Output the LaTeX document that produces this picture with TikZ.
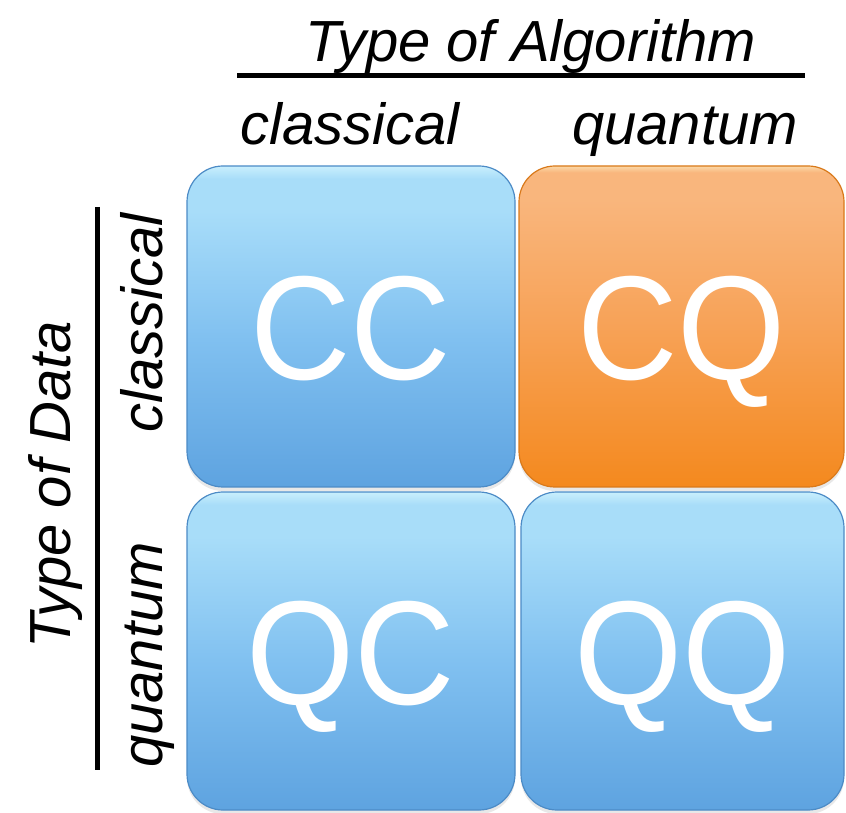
\documentclass[tikz,border=0pt]{standalone}
\usepackage{fontspec}
\setmainfont{Liberation Sans}
\newfontfamily\cellfont[FakeStretch=0.94]{Liberation Sans}
\usetikzlibrary{shadows}

\definecolor{bluetop}{HTML}{A8DDF9}
\definecolor{bluehi}{HTML}{C9EFFD}
\definecolor{bluemid}{HTML}{80C0F0}
\definecolor{bluebot}{HTML}{5EA3E0}
\definecolor{blueedge}{HTML}{4C8BC6}
\definecolor{orangetop}{HTML}{F9B67D}
\definecolor{orangehi}{HTML}{FBD9A8}
\definecolor{orangemid}{HTML}{F7A257}
\definecolor{orangebot}{HTML}{F4891E}
\definecolor{orangeedge}{HTML}{D9791A}

% vertical shadings: the box spans 25bp (bottom) to 75bp (top)
\pgfdeclareverticalshading{bluefill}{100bp}{color(0bp)=(bluebot); color(25bp)=(bluebot); color(48bp)=(bluemid); color(68bp)=(bluetop); color(73bp)=(bluetop); color(75bp)=(bluehi); color(100bp)=(bluehi)}
\pgfdeclareverticalshading{orangefill}{100bp}{color(0bp)=(orangebot); color(25bp)=(orangebot); color(50bp)=(orangemid); color(70bp)=(orangetop); color(74bp)=(orangetop); color(75bp)=(orangehi); color(100bp)=(orangehi)}

\tikzset{
  cell/.style={rectangle, rounded corners=36pt, inner sep=0pt, line width=1.2pt,
    text=white, font=\cellfont\fontsize{148}{148}\selectfont,
    text height=106pt, text depth=0pt,
    drop shadow={opacity=0.18, shadow xshift=0pt, shadow yshift=-4pt}},
  bluecell/.style={cell, draw=blueedge, shading=bluefill},
  orangecell/.style={cell, draw=orangeedge, shading=orangefill},
  axislabel/.style={font=\fontsize{58}{58}\selectfont\itshape, inner sep=0pt, anchor=base},
  axisrule/.style={line width=5pt, black}
}

\begin{document}
\begin{tikzpicture}[x=1pt,y=1pt]
\useasboundingbox (0,0) rectangle (846,812);

% the four cells
\node[bluecell,   minimum width=328pt, minimum height=321pt] (cc) at (351,485.5) {CC};
\node[orangecell, minimum width=325pt, minimum height=321pt] (cq) at (681.5,485.5) {CQ};
\node[bluecell,   minimum width=328pt, minimum height=318pt] (qc) at (351,161) {QC};
\node[bluecell,   minimum width=323pt, minimum height=318pt] (qq) at (682.5,161) {QQ};

% algorithm axis
\node[axislabel] (alg) at (531,750) {Type of Algorithm};
\coordinate (hl) at (237,736);
\coordinate (hr) at (805,736);
\draw[axisrule] (hl) -- (hr);
\node[axislabel] (algc) at (350,667) {classical};
\node[axislabel] (algq) at (685,667) {quantum};

% data axis
\node[axislabel, rotate=90] (dat) at (70,327) {Type of Data};
\coordinate (vt) at (97,605);
\coordinate (vb) at (97,42);
\draw[axisrule] (vt) -- (vb);
\node[axislabel, rotate=90] (datc) at (162,489) {classical};
\node[axislabel, rotate=90] (datq) at (162,157) {quantum};
\end{tikzpicture}
\end{document}
